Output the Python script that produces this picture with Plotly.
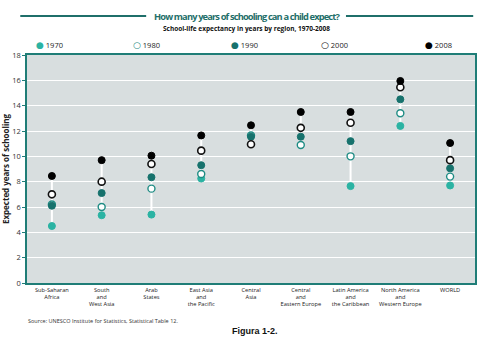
import plotly.graph_objects as go

categories = ["Sub-Saharan<br>Africa", "South<br>and<br>West Asia", "Arab<br>States",
              "East Asia<br>and<br>the Pacific", "Central<br>Asia",
              "Central<br>and<br>Eastern Europe", "Latin America<br>and<br>the Caribbean",
              "North America<br>and<br>Western Europe", "WORLD"]
years = ["1970", "1980", "1990", "2000", "2008"]
v1970 = [4.5, 5.35, 5.4, 8.25, None, None, 7.65, 12.4, 7.7]
v1980 = [6.2, 6.0, 7.45, 8.6, 11.65, 10.9, 10.0, 13.4, 8.4]
v1990 = [6.1, 7.1, 8.35, 9.3, 11.55, 11.55, 11.2, 14.5, 9.05]
v2000 = [7.0, 8.0, 9.4, 10.45, 10.95, 12.25, 12.65, 15.45, 9.7]
v2008 = [8.45, 9.7, 10.05, 11.65, 12.45, 13.5, 13.5, 15.95, 11.05]
series = [v1970, v1980, v1990, v2000, v2008]

styles = {
    "1970": dict(color="#2bb3a3", line=dict(color="#2bb3a3", width=1), symbol="circle"),
    "1980": dict(color="white", line=dict(color="#1f8c84", width=1.4), symbol="circle"),
    "1990": dict(color="#17726d", line=dict(color="#17726d", width=1), symbol="circle"),
    "2000": dict(color="white", line=dict(color="#111111", width=1.6), symbol="circle"),
    "2008": dict(color="#000000", line=dict(color="#000000", width=1), symbol="circle"),
}
legend_glyph = {"1970": ("●", "#2bb3a3"), "1980": ("○", "#1f8c84"), "1990": ("●", "#17726d"),
                "2000": ("○", "#111111"), "2008": ("●", "#000000")}
legend_x = [0.015, 0.232, 0.452, 0.652, 0.884]

idx = list(range(len(categories)))
fig = go.Figure()

# white range lines
lx, ly = [], []
for i in idx:
    vals = [s[i] for s in series if s[i] is not None]
    lx += [i, i, None]
    ly += [min(vals), max(vals), None]
fig.add_trace(go.Scatter(x=lx, y=ly, mode="lines", line=dict(color="white", width=2),
                         showlegend=False, hoverinfo="skip"))

for y, s in zip(years, series):
    fig.add_trace(go.Scatter(x=idx, y=s, mode="markers", name=y, showlegend=False,
                             marker=dict(size=7, **styles[y])))

for y, lxp in zip(years, legend_x):
    g, c = legend_glyph[y]
    fig.add_annotation(text=f"<span style='color:{c};font-size:9px'><b>{g}</b></span> {y}",
                       xref="paper", yref="paper", x=lxp, y=1.047, xanchor="left",
                       yanchor="middle", showarrow=False,
                       font=dict(size=7.5, color="#222", family="Open Sans, DejaVu Sans"))

fig.update_layout(
    width=481, height=337,
    margin=dict(l=24, r=4, t=55, b=54),
    paper_bgcolor="white", plot_bgcolor="#d8dedf",
    font=dict(family="Open Sans, sans-serif", color="#222"),
    showlegend=False,
)
fig.update_xaxes(range=[-0.5, 8.5], tickmode="array", tickvals=idx, ticktext=categories,
                 tickfont=dict(size=5.7, family="Open Sans", color="#222"), showgrid=False,
                 zeroline=False, showline=True, linecolor="#1f7d77", linewidth=1.5, mirror=True,
                 ticks="", fixedrange=True)
fig.update_yaxes(range=[0, 18], dtick=2, tickfont=dict(size=7.5, color="#333"), showgrid=True,
                 gridcolor="white", gridwidth=1.2, zeroline=False, showline=True,
                 linecolor="#1f7d77", linewidth=1.5, mirror=True, ticks="outside",
                 ticklen=3, tickcolor="#1f7d77",
                 title=dict(text="<b>Expected years of schooling</b>", font=dict(size=8, color="#222"),
                            standoff=3))

# title decoration
fig.add_shape(type="line", xref="paper", yref="paper", x0=-0.015, x1=0.266, y0=1.171, y1=1.171,
              line=dict(color="#1f6f6a", width=2))
fig.add_shape(type="line", xref="paper", yref="paper", x0=0.712, x1=0.996, y0=1.171, y1=1.171,
              line=dict(color="#1f6f6a", width=2))
fig.add_annotation(text="<span style='letter-spacing:-0.85px'><b>How many years of schooling can a child expect?</b></span>",
                   xref="paper", yref="paper", x=0.49, y=1.171, showarrow=False, yanchor="middle",
                   font=dict(family="Open Sans, sans-serif", size=9.3, color="#1f6f6a"))
fig.add_annotation(text="<b>School-life expectancy in years by region, 1970-2008</b>", xref="paper",
                   yref="paper", x=0.49, y=1.117, showarrow=False, yanchor="middle",
                   font=dict(size=6.5, color="#111"))
fig.add_annotation(text="Source: UNESCO Institute for Statistics, Statistical Table 12.",
                   xref="paper", yref="paper", x=-0.002, y=-0.165, xanchor="left", yanchor="middle",
                   showarrow=False, font=dict(size=5.5, color="#333"))
fig.add_annotation(text="<b>Figura 1-2.</b>", xref="paper", yref="paper", x=0.51, y=-0.21,
                   yanchor="middle", showarrow=False,
                   font=dict(family="Liberation Sans, Arial, sans-serif", size=9, color="#111"))

fig.write_html("out.html")
